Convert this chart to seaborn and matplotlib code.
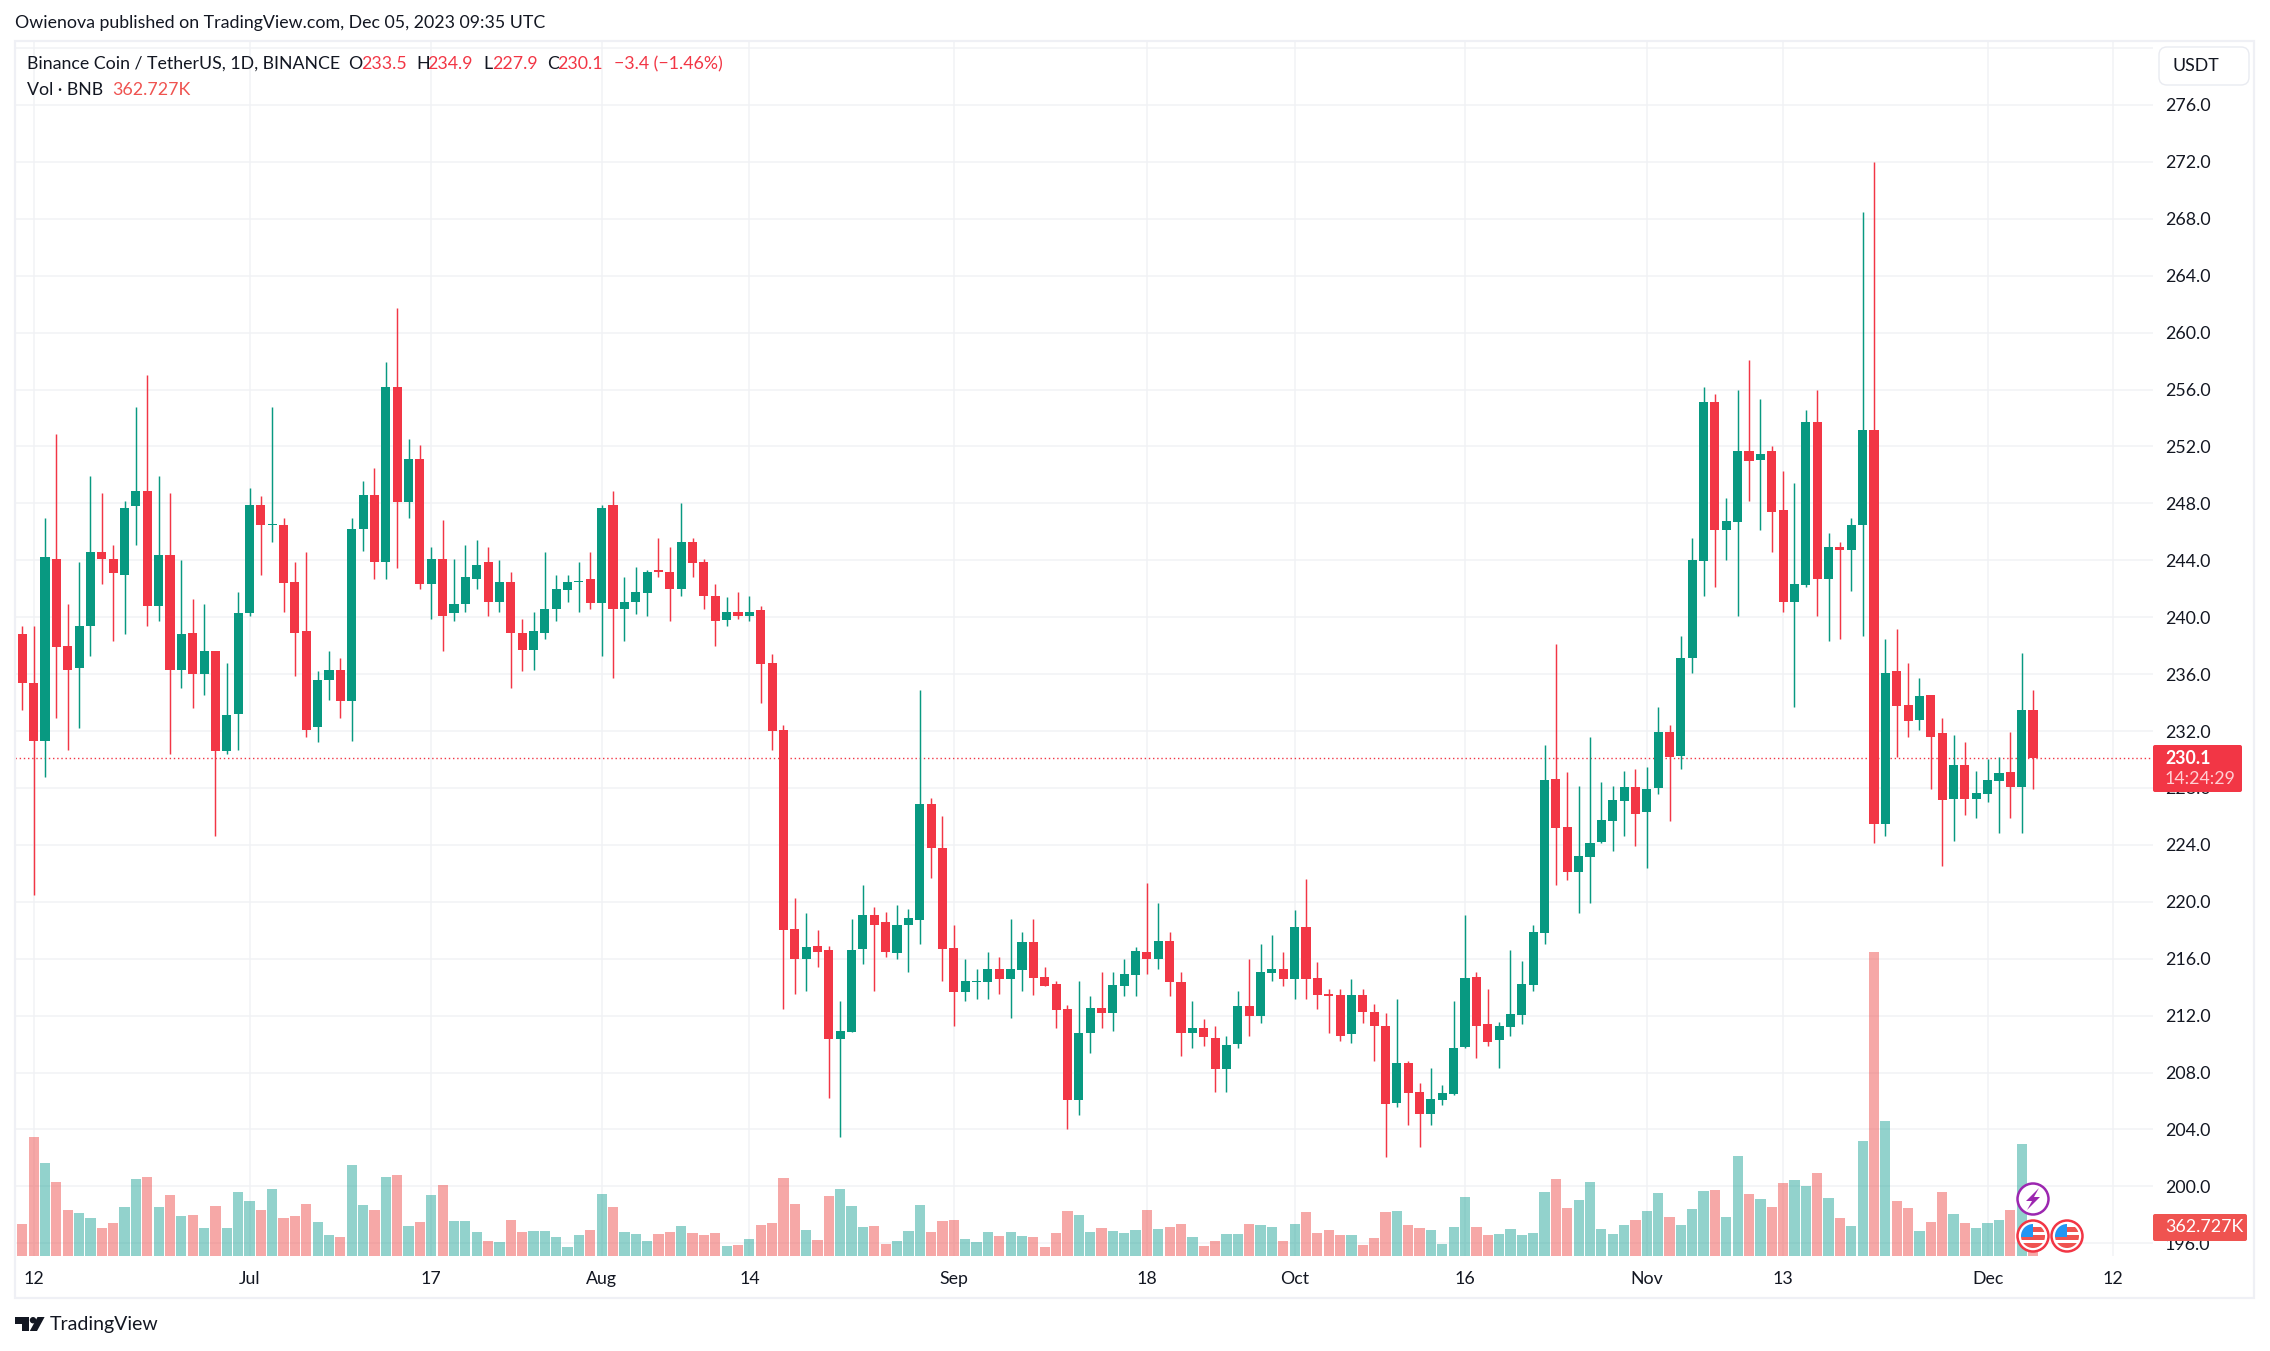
import numpy as np
import pandas as pd
import matplotlib
matplotlib.use("Agg")
import matplotlib.pyplot as plt
from matplotlib.patches import Rectangle, Circle, Polygon, FancyBboxPatch
import seaborn as sns

# ---------- data (daily BNB/USDT candles) ----------
opens = [
 238.8,235.4,231.3,244.1,238.0,236.4,239.4,244.6,244.1,243.0,
 247.8,248.9,240.8,244.4,236.3,238.9,236.0,237.6,230.6,233.2,
 240.3,247.9,246.45,246.5,242.5,239.0,232.3,235.6,236.3,234.1,
 246.2,248.6,243.9,256.2,248.1,251.1,242.3,244.1,240.3,240.9,
 242.7,243.9,241.1,242.5,238.9,237.7,238.9,240.6,241.9,242.45,
 242.7,241.0,247.9,240.6,241.1,241.7,243.3,243.2,242.0,245.3,
 243.9,241.5,239.8,240.35,240.1,240.5,236.8,232.1,218.1,216.0,
 216.9,216.6,210.35,210.85,216.7,219.05,218.6,216.4,218.35,218.75,
 226.9,223.8,216.75,213.65,214.35,214.35,215.3,214.6,215.2,217.15,
 214.7,214.2,212.45,206.1,210.75,212.55,212.2,214.05,214.85,216.45,
 215.95,217.25,214.35,210.75,211.1,210.4,208.25,210.0,212.65,212.0,
 215.0,215.3,214.55,218.2,214.65,213.5,213.45,210.7,213.45,212.25,
 211.3,205.85,208.65,206.6,205.1,206.05,206.5,209.8,214.7,211.4,
 210.3,211.2,212.05,214.15,217.8,228.6,225.25,222.1,223.15,224.2,
 225.7,227.05,228.05,226.3,228.0,231.95,230.25,237.15,243.95,255.1,
 246.15,246.7,251.7,251.05,251.65,247.5,241.05,242.25,253.7,242.65,
 244.9,244.75,246.5,253.15,225.45,236.2,233.8,232.75,234.5,231.85,
 227.25,229.6,227.25,227.55,228.5,229.1,228.05,233.5]
closes = [
 235.4,231.3,244.2,237.9,236.3,239.4,244.6,244.1,243.1,247.7,
 248.9,240.8,244.4,236.3,238.8,236.0,237.6,230.6,233.1,240.3,
 247.9,246.5,246.55,242.4,238.9,232.1,235.6,236.3,234.1,246.2,
 248.6,243.9,256.2,248.1,251.1,242.3,244.1,240.1,240.9,242.8,
 243.7,241.1,242.5,238.9,237.7,239.0,240.6,242.0,242.45,242.55,
 241.0,247.7,240.6,241.1,241.8,243.2,243.15,242.0,245.3,243.8,
 241.5,239.7,240.35,240.1,240.4,236.7,232.0,218.05,216.0,216.8,
 216.45,210.35,210.9,216.6,219.05,218.35,216.45,218.4,218.85,226.9,
 223.75,216.7,213.65,214.4,214.42,215.3,214.6,215.3,217.15,214.65,
 214.05,212.4,206.05,210.75,212.55,212.2,214.15,214.9,216.55,215.95,
 217.25,214.35,210.75,211.1,210.5,208.25,209.95,212.65,211.95,215.05,
 215.3,214.55,218.2,214.55,213.45,213.35,210.55,213.45,212.25,211.3,
 205.8,208.65,206.55,205.1,206.15,206.55,209.7,214.65,211.3,210.15,
 211.27,212.1,214.2,217.9,228.56,225.2,222.1,223.2,224.15,225.75,
 227.15,228.05,226.15,227.9,231.95,230.15,237.1,244.0,255.1,246.15,
 246.75,251.65,251.0,251.5,247.4,241.05,242.3,253.7,242.65,244.9,
 244.75,246.5,253.15,225.45,236.1,233.75,232.7,234.45,231.6,227.15,
 229.6,227.25,227.65,228.55,229.05,228.05,233.5,230.1]
highs = [
 239.4,239.4,247.0,252.9,240.9,243.9,249.9,248.7,245.1,248.2,
 254.8,257.0,249.9,248.7,244.0,241.3,240.9,237.65,236.8,241.8,
 249.1,248.5,254.8,247.0,243.9,244.6,236.2,237.6,237.1,247.0,
 249.6,250.5,257.9,261.7,252.5,252.1,244.9,246.8,244.1,245.1,
 245.4,244.9,244.0,243.2,239.9,240.4,244.6,243.0,243.0,243.9,
 244.6,247.9,248.9,242.8,243.5,243.3,245.6,244.9,248.0,245.6,
 244.1,242.3,241.4,241.8,241.5,240.8,237.4,232.4,220.3,219.2,
 218.0,216.9,213.0,218.8,221.2,219.6,219.3,219.8,219.5,234.85,
 227.3,226.0,218.4,216.0,215.3,216.5,216.1,218.8,217.9,218.8,
 215.4,214.4,212.75,214.4,213.4,215.1,215.1,216.0,216.8,221.3,
 219.9,217.85,215.1,213.0,211.75,211.3,210.6,213.7,216.0,217.0,
 217.7,216.5,219.4,221.6,215.8,213.85,213.9,214.6,213.85,212.8,
 212.2,213.15,208.8,207.3,208.3,207.1,213.0,219.1,215.1,213.9,
 211.56,216.6,215.84,218.4,231.0,238.1,229.1,228.15,231.6,228.4,
 228.15,229.2,229.3,229.5,233.7,232.4,238.7,245.6,256.2,255.7,
 248.35,255.95,258.05,255.3,252.0,250.3,249.4,254.55,256.0,245.9,
 245.3,247.0,268.5,272.0,238.5,239.2,236.8,235.7,234.52,232.9,
 231.7,231.2,229.2,230.0,230.2,231.9,237.5,234.9]
lows = [
 233.5,220.5,228.8,232.9,230.7,232.2,237.3,242.3,238.3,238.8,
 245.1,239.4,239.7,230.4,235.0,233.6,234.5,224.6,230.4,230.7,
 240.1,243.0,245.3,240.4,235.9,231.6,231.2,234.2,232.9,231.3,
 244.65,242.7,242.7,243.45,247.0,242.0,239.85,237.6,239.7,240.35,
 242.0,240.1,240.4,235.0,236.2,236.3,238.5,239.7,241.1,240.35,
 240.6,237.3,235.7,238.3,240.2,240.1,242.8,239.7,241.5,242.8,
 240.6,238.0,239.4,239.85,239.7,234.0,230.7,212.5,213.5,213.7,
 215.4,206.2,203.5,210.84,215.6,213.7,216.1,216.0,215.1,217.0,
 221.7,214.4,211.3,213.0,213.2,213.15,213.5,211.8,213.7,213.45,
 214.05,211.1,204.0,205.0,209.4,211.1,210.9,213.4,213.4,214.9,
 215.3,213.4,209.15,209.7,209.9,206.6,206.6,209.7,210.6,211.5,
 214.4,214.1,213.15,213.15,212.45,210.8,210.2,210.1,211.5,208.8,
 202.1,205.6,204.3,202.8,204.3,205.7,206.4,209.7,209.0,209.9,
 208.3,210.6,211.4,213.7,217.0,221.2,221.5,219.2,219.9,224.1,
 223.6,224.6,223.9,222.4,227.6,225.7,229.3,236.1,241.5,242.1,
 244.0,240.1,248.15,246.1,244.6,240.35,233.7,242.1,240.1,238.3,
 238.5,241.85,238.7,224.1,224.6,230.2,231.6,232.1,227.9,222.5,
 224.3,226.1,225.9,227.0,224.8,225.9,224.8,227.9]
# volume in thousands of BNB; the first value belongs to the day before the first candle
volumes_k = [
 1550,
 410,1524,1191,948,589,551,487,359,423,628,
 986,1012,628,781,512,525,359,640,359,820,
 705,589,858,487,512,666,436,269,243,1166,
 653,589,1012,1038,384,436,781,910,448,448,
 307,192,179,461,307,320,320,243,115,269,
 333,794,628,307,282,192,282,307,384,295,
 269,295,128,141,218,397,423,999,666,333,
 205,769,858,640,371,384,154,192,320,653,
 307,448,461,218,179,307,256,307,256,243,
 115,295,576,525,307,359,320,295,333,589,
 346,371,410,243,128,192,282,282,410,397,
 371,192,410,564,295,333,269,269,141,231,
 564,576,397,359,333,154,371,756,371,269,
 282,346,269,295,820,986,615,717,948,346,
 282,397,461,576,807,500,397,602,833,845,
 500,1281,794,730,628,935,974,897,1063,743,
 487,384,1473,3894,1729,705,615,320,436,820,
 538,423,359,423,461,589,1435,362.727]

first_day = "2023-06-11"
tick_dates = ["2023-06-12","2023-07-01","2023-07-17","2023-08-01","2023-08-14",
              "2023-09-01","2023-09-18","2023-10-01","2023-10-16","2023-11-01",
              "2023-11-13","2023-12-01","2023-12-12"]
tick_labels = ["12","Jul","17","Aug","14","Sep","18","Oct","16","Nov","13","Dec","12"]
price_ticks = list(range(196, 281, 4))
last_price = 230.1

# ---------- style ----------
UP, DOWN = "#089981", "#F23645"
VOL_UP, VOL_DOWN = "#26a69a", "#ef5350"
GRID = "#f1f2f5"
FRAME = "#eff0f5"
INK = "#131722"

sns.set_theme(style="white")
FONT = ["Lato", "DejaVu Sans"]
plt.rcParams["font.family"] = FONT

W, H = 2270, 1351
fig = plt.figure(figsize=(W / 100, H / 100), dpi=100, facecolor="white")

# pane rectangle, pixels
L, R, T, B = 15, 2153, 41, 1256
rect = [L / W, 1 - B / H, (R - L) / W, (B - T) / H]
ax = fig.add_axes(rect)

df = pd.DataFrame({"o": opens, "h": highs, "l": lows, "c": closes})
df["day"] = np.arange(len(df))
df["up"] = df.c >= df.o
df["color"] = np.where(df.up, UP, DOWN)

XLIM = (-0.643, 187.56)
ax.set_ylim(195.11, 280.49)
ax.grid(True, color=GRID, lw=1.1)
ax.set_axisbelow(True)
for s in ax.spines.values():
    s.set_visible(False)

ax.vlines(df.day, df.l, df.h, colors=df.color, lw=1.05, zorder=3)
ax.bar(df.day, (df.c - df.o).abs(), bottom=df[["o", "c"]].min(axis=1), width=0.8,
       color=df.color, linewidth=0, zorder=4)
ax.axhline(last_price, color=DOWN, lw=1.0, ls=(0, (1, 2)), zorder=2)

# volume on a hidden scale of its own
ax_vol = ax.twinx()
vol = pd.DataFrame({"day": np.arange(-1, len(df)), "volume": volumes_k})
vol["dir"] = ["down"] + ["up" if u else "down" for u in df.up]
sns.barplot(data=vol, x="day", y="volume", hue="dir", hue_order=["up", "down"],
            palette={"up": VOL_UP, "down": VOL_DOWN}, native_scale=True, dodge=False,
            width=0.9, saturation=1, alpha=0.5, linewidth=0, legend=False, ax=ax_vol)
ax_vol.set_ylim(0, 15564)
ax_vol.set_xlabel(""); ax_vol.set_ylabel("")
ax_vol.yaxis.set_visible(False)
ax_vol.patch.set_visible(False)
ax_vol.grid(False)
for s in ax_vol.spines.values():
    s.set_visible(False)
ax_vol.tick_params(axis="x", length=0, labelbottom=False)

# axis ticks, set last because twinx and barplot reset them
day0 = pd.Timestamp(first_day)
tick_pos = [(pd.Timestamp(d) - day0).days for d in tick_dates]
ax.set_xlim(*XLIM)
ax.set_xlabel(""); ax.set_ylabel("")
ax.set_xticks(tick_pos)
ax.set_xticklabels(tick_labels, fontsize=12.8, color=INK)
ax.set_yticks(price_ticks)
ax.set_yticklabels([f"{p:.1f}" if p < 280 else "" for p in price_ticks], fontsize=12.8, color=INK)
ax.yaxis.tick_right()
ax.tick_params(axis="both", length=0)
ax.tick_params(axis="y", pad=8.6)
ax.tick_params(axis="x", pad=11)

# ---------- page furniture in pixel coordinates ----------
ov = fig.add_axes([0, 0, 1, 1], zorder=20)
ov.set_xlim(0, W); ov.set_ylim(H, 0); ov.axis("off"); ov.patch.set_visible(False)

ov.add_patch(Rectangle((15, 41), 2254 - 15, 1298 - 41, fill=False, ec=FRAME, lw=1.6))

def txt(x, y, s, color=INK, size=12.8, **kw):
    kw.setdefault("va", "center")
    return ov.text(x, y, s, color=color, fontsize=size, **kw)

txt(15, 23, "Owienova published on TradingView.com, Dec 05, 2023 09:35 UTC")
txt(27, 64, "Binance Coin / TetherUS, 1D, BINANCE")
for x, s, c in [(348, "O", INK), (361, "233.5", DOWN), (416, "H", INK), (427.5, "234.9", DOWN),
                (483, "L", INK), (492, "227.9", DOWN), (547, "C", INK), (557, "230.1", DOWN),
                (614, "\u22123.4 (\u22121.46%)", DOWN)]:
    txt(x, 64, s, color=c)
txt(27, 90, "Vol \u00b7 BNB")
txt(112, 90, "362.727K", color=VOL_DOWN)

ov.add_patch(FancyBboxPatch((2159, 47), 90, 38, boxstyle="round,pad=0,rounding_size=8",
                            fc="white", ec="#e9ebf1", lw=1.0))
txt(2172, 66, "USDT")

# last price tag
ov.add_patch(FancyBboxPatch((2153, 745), 89, 47, boxstyle="round,pad=0,rounding_size=2",
                            fc=DOWN, ec="none"))
txt(2165, 758, "230.1", color="white", fontweight="bold")
txt(2165, 779, "14:24:29", color="#ffd0d4")
# last volume tag
ov.add_patch(FancyBboxPatch((2153, 1214), 94, 27, boxstyle="round,pad=0,rounding_size=2",
                            fc=VOL_DOWN, ec="none"))
txt(2165, 1227.5, "362.727K", color="white")

# event markers
def ring(cx, cy, col):
    ov.add_patch(Circle((cx, cy), 15.5, fc="white", ec=col, lw=1.8, zorder=5))

cx, cy = 2033, 1199
ring(cx, cy, "#9c27b0")
ov.add_patch(Polygon([(cx + 6, cy - 11), (cx - 7, cy + 2), (cx - 1, cy + 2), (cx - 6, cy + 11),
                      (cx + 7, cy - 2), (cx + 1, cy - 2)], fc="#9c27b0", ec="none", zorder=6))
for cx, cy in [(2033, 1236), (2067, 1236)]:
    ring(cx, cy, DOWN)
    clip = Circle((cx, cy), 12, transform=ov.transData)
    for yy, hh, col, xx, ww in [(-12, 24, "white", -12, 24), (-9, 5, "#ef5350", -1, 13),
                                (-1, 5, "#ef5350", -12, 24), (7, 5, "#ef5350", -12, 24),
                                (-12, 13, "#2196f3", -12, 12)]:
        p = Rectangle((cx + xx, cy + yy), ww, hh, fc=col, ec="none", zorder=6)
        ov.add_patch(p)
        p.set_clip_path(clip)

# TradingView logo
ov.add_patch(Polygon([(15, 1317), (29, 1317), (29, 1331), (22, 1331), (22, 1323.5), (15, 1323.5)],
                     fc=INK, ec="none"))
ov.add_patch(Circle((33, 1320.2), 3.2, fc=INK, ec="none"))
ov.add_patch(Polygon([(37.5, 1317), (44.6, 1317), (37, 1331), (29.8, 1331)], fc=INK, ec="none"))
txt(50, 1324.5, "TradingView", size=14)

fig.savefig("out.png", dpi=100, facecolor="white")
